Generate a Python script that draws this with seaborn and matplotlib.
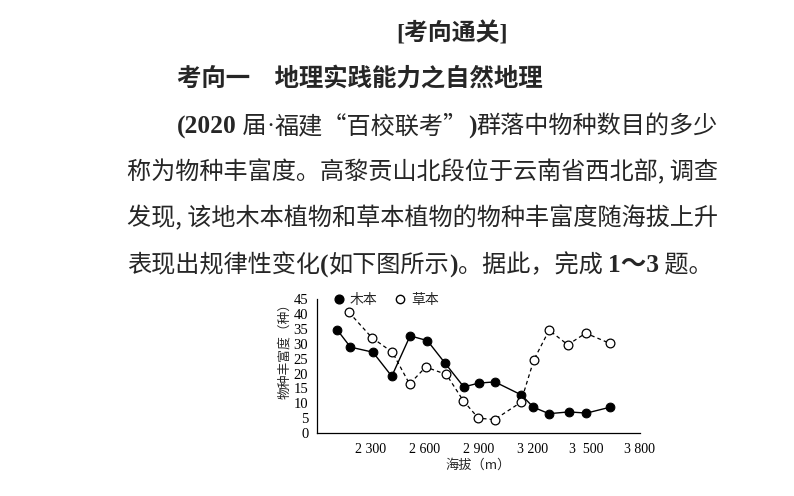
import matplotlib
matplotlib.use("Agg")
import matplotlib.pyplot as plt
from matplotlib.lines import Line2D
import seaborn as sns
import pandas as pd

# ---- data ----
woody_alt = [2113, 2188, 2313, 2418, 2520, 2616, 2716, 2819, 2902, 2992, 3140, 3206, 3293, 3404, 3502, 3635]
woody_val = [34.8, 28.9, 27.2, 19.1, 32.7, 31.1, 23.4, 15.5, 16.8, 17.2, 12.8, 8.7, 6.5, 7.1, 6.7, 8.7]
herb_alt = [2180, 2307, 2421, 2517, 2607, 2722, 2817, 2900, 2990, 3136, 3209, 3294, 3398, 3498, 3631]
herb_val = [40.6, 32.1, 27.2, 16.5, 22.2, 19.7, 10.8, 5.0, 4.5, 10.3, 24.6, 34.6, 29.7, 33.6, 30.2]
xticks = [2300, 2600, 2900, 3200, 3500, 3800]
xtick_labels = ["2 300", "2 600", "2 900", "3 200", "3  500", "3 800"]
yticks = [0, 5, 10, 15, 20, 25, 30, 35, 40, 45]
series_names = ["木本", "草本"]

title = "[考向通关]"
subtitle = "考向一　地理实践能力之自然地理"
# paragraph lines as (text, style) segments: b = bold serif, s = serif, c = CJK
para = [
    [("(2020", "b"), (" 届", "c"), ("·", "s"), ("福建“百校联考”", "c"), (")", "b"),
     ("群落中物种数目的多少", "c")],
    [("称为物种丰富度。高黎贡山北段位于云南省西北部, 调查", "c")],
    [("发现, 该地木本植物和草本植物的物种丰富度随海拔上升", "c")],
    [("表现出规律性变化", "c"), ("(", "b"), ("如下图所示", "c"), (")", "b"),
     ("。据此，完成 ", "c"), ("1～3", "b"), (" 题。", "c")],
]

sns.set_theme(style="white")
CJK = ["Noto Sans CJK SC", "DejaVu Sans"]
SERIF = ["Liberation Serif", "Noto Sans CJK SC", "DejaVu Sans"]
plt.rcParams["font.family"] = SERIF

W, H = 794, 496
fig = plt.figure(figsize=(W / 100, H / 100), dpi=100)
fig.patch.set_facecolor("white")
renderer = fig.canvas.get_renderer()

def px(x, y):
    return x / W, 1 - y / H

# ---- text ----
fig.text(*px(452, 33), title, ha="center", va="center", fontsize=17.2, fontweight="bold", family=SERIF)
fig.text(*px(177, 79), subtitle, ha="left", va="center", fontsize=17.6, fontweight="bold", family=CJK)
starts = [177, 127, 127, 127]
ys = [126, 172, 218, 265]
FS = 17.4
for s, yy, segs in zip(starts, ys, para):
    xcur = s
    for txt, st in segs:
        if st == "b":
            t = fig.text(*px(xcur, yy + 1), txt, ha="left", va="center", fontsize=FS + 1,
                         fontweight="bold", family=SERIF)
        elif st == "s":
            t = fig.text(*px(xcur, yy), txt, ha="left", va="center", fontsize=FS, family=SERIF)
        else:
            t = fig.text(*px(xcur, yy), txt, ha="left", va="center", fontsize=FS, family=CJK)
        bb = t.get_window_extent(renderer=renderer)
        xcur = bb.x1

# ---- chart ----
left, right, top, bottom = 316.7, 640, 299.3, 433
ax = fig.add_axes([left / W, 1 - bottom / H, (right - left) / W, (bottom - top) / H])
ax.set_facecolor("white")

df_w = pd.DataFrame({"alt": woody_alt, "val": woody_val})
df_h = pd.DataFrame({"alt": herb_alt, "val": herb_val})
sns.lineplot(data=df_w, x="alt", y="val", ax=ax, color="black", lw=1.0, marker="o",
             markersize=6.3, markerfacecolor="black", markeredgecolor="black", sort=False)
sns.lineplot(data=df_h, x="alt", y="val", ax=ax, color="black", lw=0.9, linestyle=(0, (3, 2.5)),
             marker="o", markersize=6.3, markerfacecolor="white", markeredgecolor="black",
             markeredgewidth=0.9, sort=False)

ax.set_xlim(2000, 3800)
ax.set_ylim(0, 45)
ax.set_xticks(xticks)
ax.set_xticklabels(xtick_labels, family=["Liberation Serif"], fontsize=10)
ax.set_yticks(yticks)
ax.set_yticklabels([str(v) for v in yticks], family=["Liberation Serif"], fontsize=10.5)
ax.tick_params(axis="x", direction="in", length=3, width=0.8, pad=7, colors="black")
ax.tick_params(axis="y", direction="in", length=3, width=0.8, pad=6, colors="black")
for s in ["top", "right"]:
    ax.spines[s].set_visible(False)
for s in ["left", "bottom"]:
    ax.spines[s].set_color("black")
    ax.spines[s].set_linewidth(0.9)
ax.set_xlabel("海拔（m）", fontsize=9.5, family=CJK, labelpad=2)
ax.set_ylabel("物种丰富度（种）", fontsize=9.2, family=CJK)
ax.yaxis.set_label_coords(-0.078, 0.636)

handles = [
    Line2D([], [], ls="none", marker="o", ms=6.3, mfc="black", mec="black"),
    Line2D([], [], ls="none", marker="o", ms=6.0, mfc="white", mec="black"),
]
ax.legend(handles, series_names, loc="upper left", bbox_to_anchor=(0.03, 1.09), ncol=2,
          frameon=False, handletextpad=0.3, columnspacing=1.1,
          handlelength=1.0, borderaxespad=0, prop={"family": CJK, "size": 10})

fig.savefig("out.png", dpi=100, facecolor="white")
